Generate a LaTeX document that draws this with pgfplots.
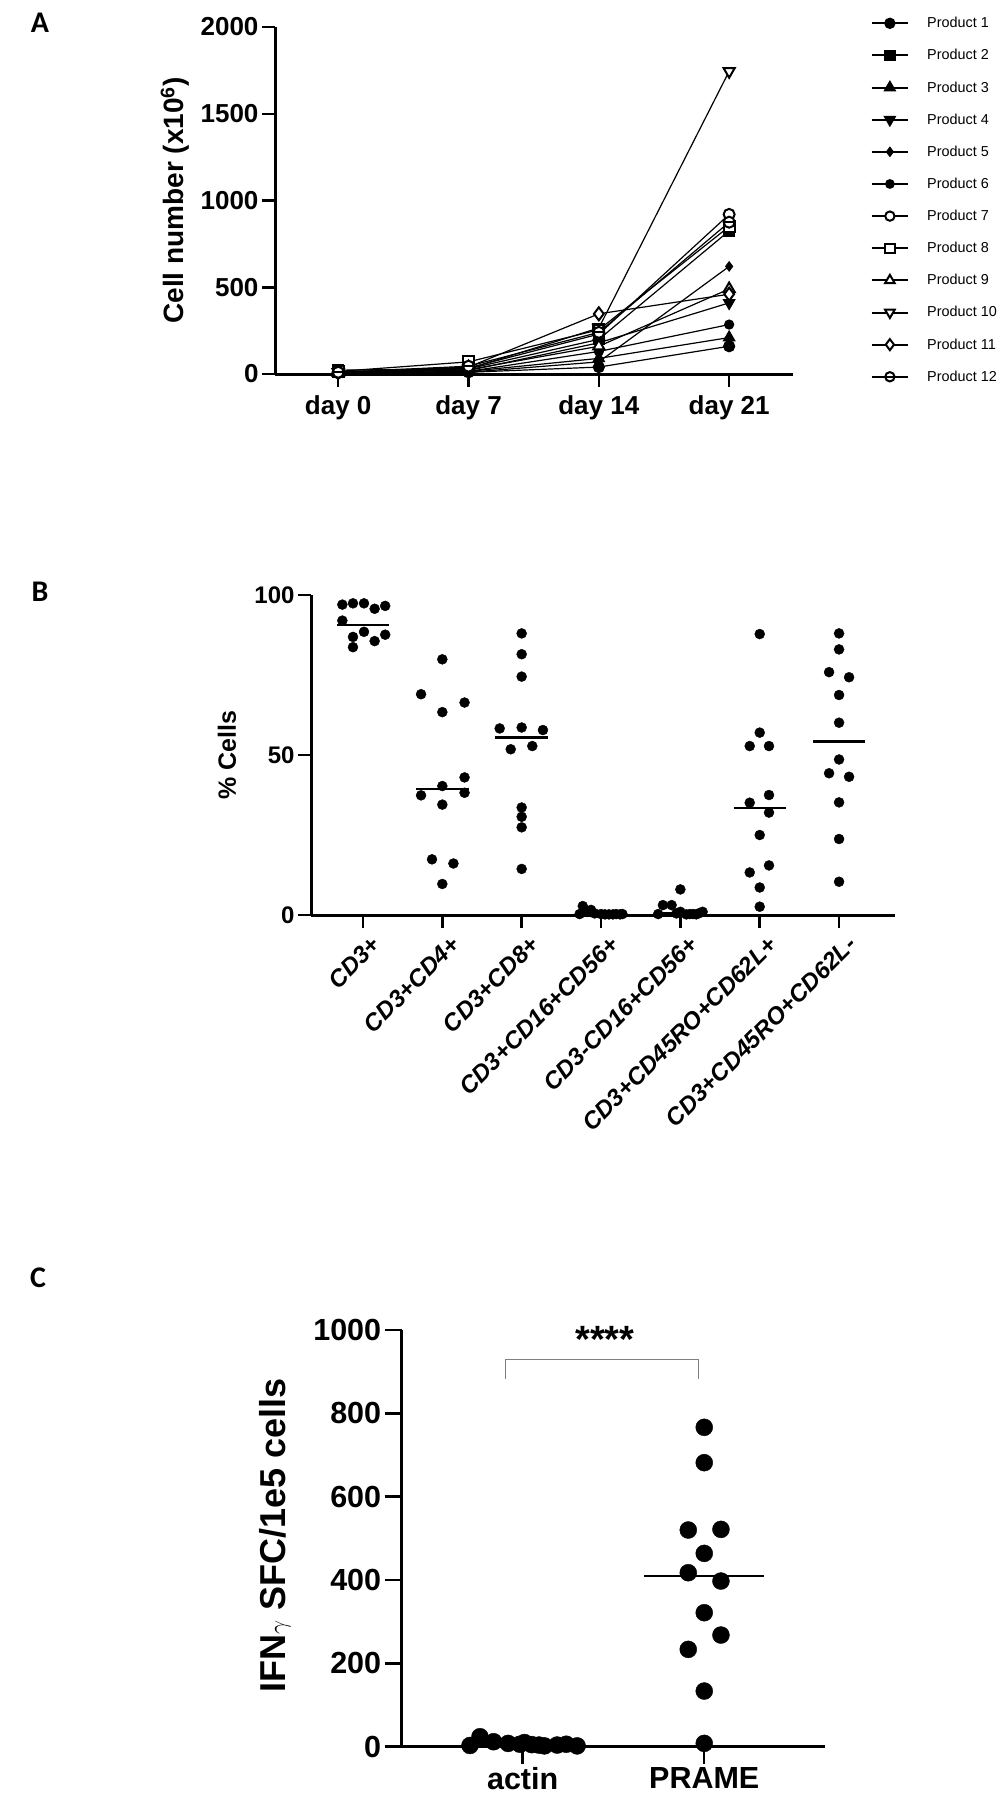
\documentclass[border=0pt]{standalone}
\usepackage{fontspec}
\setmainfont{Liberation Sans}
\newfontfamily\letterfont{Carlito}
\usepackage{pgfplots}
\pgfplotsset{compat=1.18}

% circle with a horizontal bar (Product 12)
\pgfdeclareplotmark{ominus}{%
  \pgfpathcircle{\pgfpointorigin}{\pgfplotmarksize}%
  \pgfusepathqfillstroke
  \pgfpathmoveto{\pgfpoint{-\pgfplotmarksize}{0pt}}%
  \pgfpathlineto{\pgfpoint{\pgfplotmarksize}{0pt}}%
  \pgfusepathqstroke}

\newcommand{\fs}[1]{\fontsize{#1}{#1}\selectfont}

\pgfplotsset{
  gp/.style={
    scale only axis, anchor=south west, clip=false,
    axis lines=left, axis line style={-, line width=3pt},
    tick align=outside, major tick length=13pt,
    major tick style={line width=2.5pt, black},
    ymin=0,
    /pgf/number format/1000 sep={},
    /pgf/number format/assume math mode=true,
  },
  med/.style={black, line width=2.5pt, no marks},
  open/.style={mark options={fill=white, line width=2pt}},
}

\begin{document}
\begin{tikzpicture}
\useasboundingbox (0pt,0pt) rectangle (1003pt,-1800pt);

% ---------------- A ----------------
\node[font=\letterfont\fs{30}\bfseries] at (40pt,-23pt) {A};
\begin{axis}[gp, at={(275pt,-374pt)}, width=518pt, height=347pt,
  xmin=-0.485, xmax=3.49, ymax=2000,
  xtick={0,1,2,3}, xticklabels={day 0,day 7,day 14,day 21},
  ytick={0,500,1000,1500,2000},
  tick label style={font=\fs{26}\bfseries},
  xticklabel style={yshift=-5pt},
  ylabel={Cell number (x10\textsuperscript{6})},
  every axis y label/.style={at={(rel axis cs:-0.193,0.5)}, rotate=90, anchor=center, font=\fs{28}\bfseries},
  legend style={at={(1.1436,1.04)}, anchor=north west, draw=none, fill=none,
    font=\fs{14.4}, row sep=16.2pt, cells={anchor=west},
    /tikz/every odd column/.append style={column sep=16pt}},
  legend image code/.code={\draw[mark repeat=2,mark phase=2] plot coordinates {(0pt,0pt) (18.3pt,0pt) (36.6pt,0pt)};},
  legend image post style={line width=2pt, every mark/.append style={scale=0.85}},
  every axis plot/.append style={black, line width=1.2pt},
]
\addplot[mark=*, mark size=5.5pt] coordinates {(0,5) (1,10) (2,40) (3,160)};
\addlegendentry{Product 1}
\addplot[mark=square*, mark size=5.5pt] coordinates {(0,22) (1,30) (2,200) (3,825)};
\addlegendentry{Product 2}
\addplot[mark=triangle*, mark size=6.5pt] coordinates {(0,5) (1,15) (2,90) (3,210)};
\addlegendentry{Product 3}
\addplot[mark=triangle*, mark size=6.5pt, mark options={rotate=180}] coordinates {(0,10) (1,20) (2,180) (3,410)};
\addlegendentry{Product 4}
\addplot[mark=diamond*, mark size=4.5pt] coordinates {(0,5) (1,10) (2,70) (3,620)};
\addlegendentry{Product 5}
\addplot[mark=*, mark size=4.5pt] coordinates {(0,5) (1,15) (2,130) (3,285)};
\addlegendentry{Product 6}
\addplot[mark=*, mark size=5.5pt, open] coordinates {(0,10) (1,35) (2,230) (3,920)};
\addlegendentry{Product 7}
\addplot[mark=square*, mark size=5.5pt, open] coordinates {(0,15) (1,70) (2,255) (3,850)};
\addlegendentry{Product 8}
\addplot[mark=triangle*, mark size=6.5pt, open] coordinates {(0,10) (1,25) (2,160) (3,490)};
\addlegendentry{Product 9}
\addplot[mark=triangle*, mark size=6.5pt, mark options={fill=white, line width=2pt, rotate=180}] coordinates {(0,10) (1,30) (2,265) (3,1745)};
\addlegendentry{Product 10}
\addplot[mark=diamond*, mark size=6.5pt, open] coordinates {(0,10) (1,40) (2,347) (3,460)};
\addlegendentry{Product 11}
\addplot[mark=ominus, mark size=5.5pt, open] coordinates {(0,10) (1,45) (2,240) (3,875)};
\addlegendentry{Product 12}
\end{axis}

% ---------------- B ----------------
\node[font=\letterfont\fs{30}\bfseries] at (40pt,-592pt) {B};
\begin{axis}[gp, at={(311pt,-915pt)}, width=584pt, height=320pt,
  xmin=-0.655, xmax=6.705, ymax=100,
  ytick={0,50,100}, xtick={0,1,2,3,4,5,6},
  xticklabels={CD3+,CD3+CD4+,CD3+CD8+,CD3+CD16+CD56+,CD3-CD16+CD56+,CD3+CD45RO+CD62L+,CD3+CD45RO+CD62L-},
  yticklabel style={font=\fs{24}\bfseries},
  xticklabel style={rotate=45, anchor=north east, font=\fs{24}\bfseries\itshape, xshift=4pt, yshift=-6pt},
  ylabel={\% Cells},
  every axis y label/.style={at={(rel axis cs:-0.1438,0.5)}, rotate=90, anchor=center, font=\fs{25}\bfseries},
]
\addplot[only marks, mark=*, mark size=5pt, black] coordinates {
  (-0.26,97.0) (-0.126,97.4) (0.013,97.4) (0.147,95.7) (0.28,96.6)
  (-0.26,92.0) (-0.126,86.9) (0.013,88.5) (0.147,85.6) (0.28,87.6) (-0.126,83.7)
};
\addplot[only marks, mark=*, mark size=5pt, black] coordinates {
  (1,79.9) (0.732,69.0) (1.28,66.4) (1,63.4) (1.28,43.0) (1,40.3)
  (0.732,37.4) (1.28,38.2) (1,34.5) (0.87,17.4) (1.14,16.1) (1,9.7)
};
\addplot[only marks, mark=*, mark size=5pt, black] coordinates {
  (2,88.0) (2,81.5) (2,74.5) (1.723,58.3) (2,58.6) (2.268,57.8)
  (1.862,51.8) (2.134,52.8) (2,33.6) (2,30.7) (2,27.4) (2,14.4)
};
\addplot[only marks, mark=*, mark size=5pt, black] coordinates {
  (2.73,0.3) (2.77,2.8) (2.83,1.0) (2.874,1.6) (2.92,0.5) (3,0.3)
  (3.05,0.2) (3.1,0.2) (3.15,0.2) (3.19,0.3) (3.24,0.2) (3.27,0.3)
};
\addplot[only marks, mark=*, mark size=5pt, black] coordinates {
  (3.72,0.3) (3.78,3.1) (3.89,3.1) (3.95,0.5) (4,1.0) (4,8.0)
  (4.075,0.2) (4.12,0.3) (4.16,0.3) (4.2,0.2) (4.24,0.6) (4.28,1.0)
};
\addplot[only marks, mark=*, mark size=5pt, black] coordinates {
  (5,87.8) (5,57.0) (4.874,52.8) (5.117,52.8) (5.117,37.5) (4.874,35.1)
  (5.117,32.0) (5,25.0) (5.117,15.5) (4.874,13.3) (5,8.6) (5,2.6)
};
\addplot[only marks, mark=*, mark size=5pt, black] coordinates {
  (6,88.0) (6,83.0) (5.874,75.9) (6.126,74.3) (6,68.75) (6,60.1)
  (6,48.6) (5.874,44.3) (6.126,43.2) (6,35.2) (6,23.75) (6,10.4)
};
\addplot[med] coordinates {(-0.33,90.7) (0.33,90.7)};
\addplot[med] coordinates {(0.67,39.4) (1.33,39.4)};
\addplot[med] coordinates {(1.67,55.4) (2.33,55.4)};
\addplot[med] coordinates {(2.67,0.3) (3.33,0.3)};
\addplot[med] coordinates {(3.67,0.5) (4.33,0.5)};
\addplot[med] coordinates {(4.67,33.5) (5.33,33.5)};
\addplot[med] coordinates {(5.67,54.2) (6.33,54.2)};
\end{axis}

% ---------------- C ----------------
\node[font=\letterfont\fs{30}\bfseries] at (38pt,-1278pt) {C};
\begin{axis}[gp, at={(401.7pt,-1746.7pt)}, width=423.3pt, height=416.7pt,
  xmin=-0.666, xmax=1.665, ymax=1000,
  ytick={0,200,400,600,800,1000}, xtick={0,1}, xticklabels={actin,PRAME},
  axis line style={line width=2.7pt}, major tick length=17pt,
  tick label style={font=\fs{30.5}\bfseries},
  ylabel={IFN$\gamma$ SFC/1e5 cells},
  every axis y label/.style={at={(rel axis cs:-0.299,0.506)}, rotate=90, anchor=center, font=\fs{36}\bfseries},
]
\addplot[only marks, mark=*, mark size=8.5pt, black] coordinates {
  (-0.29,3) (-0.235,24) (-0.16,12) (-0.08,8) (-0.015,6) (0.01,10)
  (0.05,5) (0.09,4) (0.12,2) (0.19,4) (0.24,6) (0.3,2)
};
\addplot[only marks, mark=*, mark size=8.5pt, black] coordinates {
  (1,766.5) (1,681.6) (0.912,520) (1.092,521.6) (1,464) (0.912,417.6)
  (1.092,397.6) (1,321.6) (1.092,268) (0.912,233.6) (1,133.6) (1,8)
};
\addplot[med] coordinates {(-0.33,5) (0.33,5)};
\addplot[med] coordinates {(0.67,409.6) (1.33,409.6)};
\addplot[gray, line width=1pt, no marks] coordinates {(-0.097,882) (-0.097,929) (0.971,929) (0.971,882)};
\node[font=\fs{38}\bfseries] at (axis cs:0.453,978) {****};
\end{axis}
\end{tikzpicture}
\end{document}
